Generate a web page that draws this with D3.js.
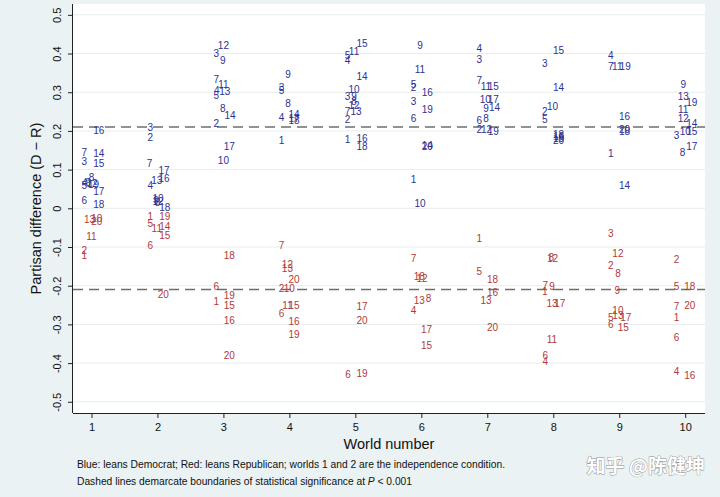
<!DOCTYPE html>
<html><head><meta charset="utf-8">
<script src="https://cdn.jsdelivr.net/npm/d3@7/dist/d3.min.js"></script>
<style>
body{margin:0;background:#eaf2f3;}
svg{display:block;font-family:"Liberation Sans",Arial,Helvetica,sans-serif;}
</style>
</head><body>
<svg id="chart" width="720" height="497"></svg>
<script>
// ---- data: one value per participant label 1..20, per world ----
const participantLabels = d3.range(1, 21).map(String);
const worldNumbers = [1, 2, 3, 4, 5, 6, 7, 8, 9, 10];

const world1 = [-0.121,-0.108,0.122,0.068,0.060,0.020,0.144,0.079,0.066,-0.025,-0.072,0.064,-0.028,0.142,0.116,0.202,0.043,0.009,0.061,-0.034];
const world2 = [-0.020,0.182,0.209,0.059,-0.039,-0.097,0.116,0.014,0.020,0.026,-0.052,0.018,0.071,-0.047,-0.069,0.077,0.099,0.003,-0.022,-0.222];
const world3 = [-0.240,0.220,0.400,0.306,0.293,-0.203,0.333,0.257,0.383,0.125,0.319,0.422,0.301,0.239,-0.250,-0.289,0.161,-0.122,-0.226,-0.381];
const world4 = [0.176,-0.207,0.313,0.234,0.304,-0.271,-0.097,0.271,0.347,-0.207,-0.252,-0.145,-0.155,0.243,-0.250,-0.291,0.232,0.226,-0.327,-0.185];
const world5 = [0.178,0.230,0.290,0.381,0.396,-0.428,0.250,0.275,0.288,0.308,0.405,0.265,0.250,0.340,0.425,0.181,-0.254,0.161,-0.426,-0.290];
const world6 = [0.075,0.313,0.275,-0.265,0.321,0.233,-0.129,-0.233,0.420,0.013,0.359,-0.181,-0.237,0.162,-0.355,0.300,-0.314,-0.177,0.256,0.160];
const world7 = [-0.079,0.205,0.385,0.413,-0.162,0.228,0.331,0.233,0.258,0.282,0.316,0.205,-0.237,0.260,0.314,-0.217,0.282,-0.183,0.198,-0.308];
const world8 = [-0.215,0.251,0.375,-0.395,0.231,-0.379,-0.198,-0.127,-0.203,0.263,-0.339,-0.129,-0.245,0.313,0.407,0.186,-0.245,0.191,0.181,0.175];
const world9 = [0.142,-0.148,-0.065,0.394,-0.282,-0.300,0.366,-0.168,-0.213,-0.263,0.366,-0.116,-0.276,0.060,-0.308,0.237,-0.282,0.200,0.366,0.203];
const world10 = [-0.283,-0.132,0.189,-0.422,-0.203,-0.333,-0.254,0.145,0.321,0.198,0.256,0.233,0.288,0.220,0.198,-0.433,0.159,-0.203,0.273,-0.252];

// horizontal jitter of each label around its world number (world units)
const jitter1 = [-0.11,-0.11,-0.11,-0.10,-0.11,-0.11,-0.11,0.00,-0.05,0.08,0.00,0.01,-0.03,0.11,0.11,0.11,0.11,0.11,0.03,0.08];
const jitter2 = [-0.11,-0.11,-0.11,-0.11,-0.11,-0.11,-0.12,0.00,-0.02,0.01,-0.01,0.01,-0.01,0.11,0.11,0.10,0.10,0.11,0.11,0.09];
const jitter3 = [-0.11,-0.11,-0.11,-0.10,-0.11,-0.11,-0.11,-0.01,-0.01,0.00,0.00,0.00,0.02,0.10,0.09,0.09,0.09,0.09,0.09,0.09];
const jitter4 = [-0.12,-0.12,-0.12,-0.12,-0.12,-0.12,-0.12,-0.02,-0.02,0.00,-0.03,-0.03,-0.03,0.07,0.07,0.07,0.07,0.07,0.07,0.07];
const jitter5 = [-0.12,-0.12,-0.12,-0.12,-0.12,-0.11,-0.12,-0.02,-0.02,-0.02,-0.02,-0.02,0.01,0.10,0.10,0.10,0.10,0.10,0.10,0.10];
const jitter6 = [-0.12,-0.12,-0.12,-0.12,-0.12,-0.12,-0.12,0.11,-0.02,-0.02,-0.02,0.01,-0.03,0.09,0.08,0.09,0.08,-0.03,0.09,0.09];
const jitter7 = [-0.12,-0.12,-0.12,-0.12,-0.12,-0.12,-0.12,-0.02,-0.02,-0.03,-0.02,-0.01,-0.02,0.11,0.09,0.08,0.09,0.08,0.09,0.08];
const jitter8 = [-0.13,-0.13,-0.13,-0.12,-0.13,-0.12,-0.12,-0.03,-0.02,-0.01,-0.02,-0.01,-0.02,0.08,0.08,0.08,0.10,0.08,0.08,0.08];
const jitter9 = [-0.13,-0.13,-0.13,-0.13,-0.13,-0.13,-0.13,-0.02,-0.03,-0.02,-0.03,-0.02,-0.02,0.08,0.06,0.08,0.10,0.08,0.09,0.08];
const jitter10 = [-0.13,-0.13,-0.13,-0.13,-0.13,-0.13,-0.13,-0.04,-0.03,0.00,-0.03,-0.03,-0.03,0.10,0.10,0.07,0.10,0.07,0.10,0.07];

const yTickValues = [-0.5,-0.4,-0.3,-0.2,-0.1,0,0.1,0.2,0.3,0.4,0.5];
const yTickLabels = ["-0.5","-0.4","-0.3","-0.2","-0.1","0","0.1","0.2","0.3","0.4","0.5"];
const significanceBounds = [0.21, -0.21];

const yTitle = "Partisan difference (D \u2212 R)";
const xTitle = "World number";
const captionLine1 = "Blue: leans Democrat; Red: leans Republican; worlds 1 and 2 are the independence condition.";
const captionLine2a = "Dashed lines demarcate boundaries of statistical significance at ";
const watermark = "知乎 @陈健坤";

// ---- build rows ----
const worldValues = [world1, world2, world3, world4, world5, world6, world7, world8, world9, world10];
const worldJitter = [jitter1, jitter2, jitter3, jitter4, jitter5, jitter6, jitter7, jitter8, jitter9, jitter10];
const rows = [];
worldNumbers.forEach((w, wi) => {
  participantLabels.forEach((lab, li) => {
    rows.push({world: w, x: w + worldJitter[wi][li], value: worldValues[wi][li], label: lab});
  });
});

// ---- layout ----
const plotLeft = 73, plotRight = 705, plotTop = 4, plotBottom = 413;
const BLUE = "#2e3190", RED = "#b03a3a";

const svg = d3.select("#chart");
svg.append("rect").attr("width", 720).attr("height", 497).attr("fill", "#eaf2f3");

const x = d3.scaleLinear().domain([0.72, 10.3]).range([plotLeft, plotRight]);
const y = d3.scaleLinear().domain([-0.529, 0.528]).range([plotBottom, plotTop]);

svg.append("rect").attr("x", plotLeft).attr("y", plotTop)
  .attr("width", plotRight - plotLeft).attr("height", plotBottom - plotTop).attr("fill", "#ffffff");

// gridlines
svg.append("g").selectAll("line").data(yTickValues).join("line")
  .attr("x1", plotLeft).attr("x2", plotRight)
  .attr("y1", d => y(d)).attr("y2", d => y(d))
  .attr("stroke", "#e8ecee").attr("stroke-width", 1);

// significance lines
svg.append("g").selectAll("line").data(significanceBounds).join("line")
  .attr("x1", plotLeft).attr("x2", plotRight)
  .attr("y1", d => y(d)).attr("y2", d => y(d))
  .attr("stroke", "#6e6e6e").attr("stroke-width", 1.6).attr("stroke-dasharray", "10,6");

// labels
svg.append("g").selectAll("text").data(rows).join("text")
  .attr("x", d => x(d.x)).attr("y", d => y(d.value)).attr("dy", "0.36em")
  .attr("text-anchor", "middle").attr("font-size", 10)
  .attr("fill", d => d.value >= 0 ? BLUE : RED)
  .text(d => d.label);

// axes
const xAxis = d3.axisBottom(x).tickValues(worldNumbers).tickSize(5).tickPadding(5).tickFormat(d3.format("d"));
const gx = svg.append("g").attr("transform", `translate(0,${plotBottom})`).call(xAxis);
gx.select(".domain").attr("d", `M${plotLeft},0.5H${plotRight}`).attr("stroke", "#222");
gx.selectAll(".tick line").attr("stroke", "#222");
gx.selectAll(".tick text").attr("font-size", 11).attr("fill", "#111").attr("font-family", "Liberation Sans, Arial, sans-serif");

const yAxis = d3.axisLeft(y).tickValues(yTickValues).tickSize(5).tickFormat((d, i) => yTickLabels[i]);
const gy = svg.append("g").attr("transform", `translate(${plotLeft},0)`).call(yAxis);
gy.select(".domain").attr("d", `M-0.5,${plotTop}V${plotBottom}`).attr("stroke", "#222");
gy.selectAll(".tick line").attr("stroke", "#222");
gy.selectAll(".tick text")
  .attr("font-size", 11).attr("fill", "#111").attr("font-family", "Liberation Sans, Arial, sans-serif")
  .attr("x", null).attr("dy", null)
  .attr("transform", "translate(-16,0) rotate(-90)")
  .attr("text-anchor", "middle").attr("dominant-baseline", "central");

// titles
svg.append("text").attr("transform", `translate(36,${(plotTop + plotBottom) / 2}) rotate(-90)`)
  .attr("text-anchor", "middle").attr("dominant-baseline", "central")
  .attr("font-size", 14.5).attr("fill", "#111").text(yTitle);
svg.append("text").attr("x", (plotLeft + plotRight) / 2).attr("y", 449)
  .attr("text-anchor", "middle").attr("font-size", 14.5).attr("fill", "#111").text(xTitle);

// caption
svg.append("text").attr("x", 77).attr("y", 467.5).attr("font-size", 10).attr("fill", "#111")
  .attr("textLength", 428).attr("lengthAdjust", "spacingAndGlyphs").text(captionLine1);
const cap2 = svg.append("text").attr("x", 77).attr("y", 484.5).attr("font-size", 10).attr("fill", "#111")
  .attr("textLength", 335).attr("lengthAdjust", "spacingAndGlyphs");
cap2.append("tspan").text(captionLine2a);
cap2.append("tspan").attr("font-style", "italic").text("P");
cap2.append("tspan").text(" < 0.001");

// watermark
svg.append("text").attr("x", 705).attr("y", 473).attr("text-anchor", "end")
  .attr("font-family", "Noto Sans CJK SC, sans-serif").attr("font-size", 19).attr("font-weight", "bold")
  .attr("fill", "#ffffff").attr("stroke", "#8a8a8a").attr("stroke-width", 0.8)
  .attr("paint-order", "stroke").text(watermark);
</script>
</body></html>
